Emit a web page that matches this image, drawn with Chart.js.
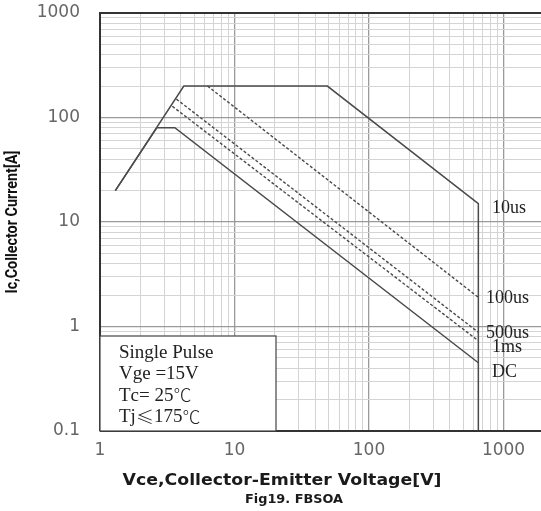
<!DOCTYPE html>
<html>
<head>
<meta charset="utf-8">
<script src="https://cdn.jsdelivr.net/npm/chart.js@4.4.1/dist/chart.umd.min.js"></script>
<style>
  html, body { margin: 0; padding: 0; background: #fff; }
  canvas { display: block; }
</style>
</head>
<body>
<canvas id="soa-chart" width="541" height="511"></canvas>
<script>
// curve points (Vce in V, Ic in A)
const vce10us = [1.3, 4.2, 49, 650, 650];
const ic10us  = [20, 200, 200, 15, 0.1];
const vce100us = [6.3, 650];
const ic100us  = [200, 1.9];
const vce500us = [3.7, 650];
const ic500us  = [150, 0.88];
const vce1ms = [3.45, 650];
const ic1ms  = [128, 0.73];
const vceDC = [1.3, 2.65, 3.6, 650];
const icDC  = [20, 80, 80, 0.45];

const xTickValues = [1, 2, 3, 4, 5, 6, 7, 8, 9, 10, 20, 30, 40, 50, 60, 70, 80, 90,
    100, 200, 300, 400, 500, 600, 700, 800, 900, 1000];
const yTickValues = [0.1, 0.2, 0.3, 0.4, 0.5, 0.6, 0.7, 0.8, 0.9, 1, 2, 3, 4, 5, 6, 7, 8, 9,
    10, 20, 30, 40, 50, 60, 70, 80, 90, 100, 200, 300, 400, 500, 600, 700, 800, 900, 1000];
const xTickLabels = ['1', '10', '100', '1000'];
const yTickLabels = ['0.1', '1', '10', '100', '1000'];

const legendLines = ['Single Pulse', 'Vge =15V', 'Tc= 25\u2103', 'Tj\u2264175\u2103'];
const curveNames = ['10us', '100us', '500us', '1ms', 'DC'];

function pts(xs, ys) {
    return xs.map((v, i) => ({ x: v, y: ys[i] }));
}

function isDecade(v) {
    const l = Math.log10(v);
    return Math.abs(l - Math.round(l)) < 1e-6;
}

function lineSet(label, xs, ys, dashed) {
    return {
        label: label,
        data: pts(xs, ys),
        showLine: true,
        borderColor: '#4a4a4a',
        borderWidth: dashed ? 1.4 : 1.5,
        borderDash: dashed ? [3, 2] : [],
        pointRadius: 0,
        tension: 0,
        fill: false
    };
}

// serif text, with the symbol glyphs (℃, ≤) taken from the CJK font
function drawMixed(c, text, x, y) {
    let cx = x;
    for (const ch of text) {
        const sym = ch === '\u2103' || ch === '\u2264';
        c.font = sym ? '300 18px "Noto Sans CJK SC"' : '19px "Liberation Serif", serif';
        c.fillText(ch, cx, y);
        cx += c.measureText(ch).width;
    }
}

const decorPlugin = {
    id: 'decor',
    afterDraw(chart) {
        const c = chart.ctx;
        const a = chart.chartArea;
        c.save();

        // frame
        c.strokeStyle = '#333';
        c.lineWidth = 2;
        c.beginPath();
        c.moveTo(a.left, a.bottom);
        c.lineTo(a.left, a.top);
        c.lineTo(a.right, a.top);
        c.moveTo(a.left, a.bottom);
        c.lineTo(a.right, a.bottom);
        c.stroke();

        // condition box
        c.fillStyle = '#fff';
        c.fillRect(a.left, 336, 176, a.bottom - 336);
        c.strokeStyle = '#444';
        c.lineWidth = 1.2;
        c.strokeRect(a.left, 336, 176, a.bottom - 336);
        c.fillStyle = '#222';
        c.textBaseline = 'middle';
        c.textAlign = 'left';
        legendLines.forEach((t, i) => drawMixed(c, t, 119, 353 + i * 21.3));

        // curve names on the right
        c.font = '18px "Liberation Serif", serif';
        const nameX = [492, 486, 486, 492, 492];
        const nameY = [208, 298, 333, 347, 372];
        curveNames.forEach((t, i) => c.fillText(t, nameX[i], nameY[i]));

        // axis titles
        c.textAlign = 'center';
        c.fillStyle = '#1a1a1a';
        c.font = 'bold 15px "DejaVu Sans", sans-serif';
        const xt = 'Vce,Collector-Emitter Voltage[V]';
        const wx = c.measureText(xt).width;
        c.save();
        c.translate(282, 481);
        c.scale(319 / wx, 1);
        c.fillText(xt, 0, 0);
        c.restore();

        c.font = 'bold 13px "DejaVu Sans", sans-serif';
        const ft = 'Fig19. FBSOA';
        const wf = c.measureText(ft).width;
        c.save();
        c.translate(294, 500);
        c.scale(98 / wf, 1);
        c.fillText(ft, 0, 0);
        c.restore();

        c.fillStyle = '#111';
        c.font = 'bold 16px Roboto, sans-serif';
        const yt = 'Ic,Collector Current[A]';
        const wy = c.measureText(yt).width;
        c.save();
        c.translate(13, 222);
        c.rotate(-Math.PI / 2);
        c.scale(143 / wy, 1);
        c.fillText(yt, 0, 0);
        c.restore();

        c.restore();
    }
};

new Chart(document.getElementById('soa-chart'), {
    type: 'scatter',
    data: {
        datasets: [
            lineSet('10us', vce10us, ic10us, false),
            lineSet('100us', vce100us, ic100us, true),
            lineSet('500us', vce500us, ic500us, true),
            lineSet('1ms', vce1ms, ic1ms, true),
            lineSet('DC', vceDC, icDC, false)
        ]
    },
    options: {
        responsive: false,
        animation: false,
        layout: { padding: { top: 13, right: 0, left: 0, bottom: 0 } },
        plugins: {
            legend: { display: false },
            tooltip: { enabled: false }
        },
        scales: {
            x: {
                type: 'logarithmic',
                min: 1,
                max: 1900,
                afterBuildTicks: s => { s.ticks = xTickValues.map(v => ({ value: v })); },
                afterFit: s => { s.height = 80; s.paddingLeft = 0; s.paddingRight = 0; },
                border: { display: false },
                grid: {
                    drawTicks: false,
                    color: ctx => isDecade(ctx.tick.value) ? '#9a9a9a' : '#d4d4d4',
                    lineWidth: ctx => isDecade(ctx.tick.value) ? 1.3 : 1
                },
                ticks: {
                    autoSkip: false,
                    maxRotation: 0,
                    padding: 9,
                    color: '#666',
                    font: { family: 'DejaVu Sans', size: 17 },
                    callback: v => {
                        const i = Math.round(Math.log10(v));
                        return isDecade(v) ? xTickLabels[i] : '';
                    }
                }
            },
            y: {
                type: 'logarithmic',
                min: 0.1,
                max: 1000,
                afterBuildTicks: s => { s.ticks = yTickValues.map(v => ({ value: v })); },
                afterFit: s => { s.width = 100; s.paddingTop = 0; s.paddingBottom = 0; },
                border: { display: false },
                grid: {
                    drawTicks: false,
                    color: ctx => isDecade(ctx.tick.value) ? '#9a9a9a' : '#d4d4d4',
                    lineWidth: ctx => isDecade(ctx.tick.value) ? 1.3 : 1
                },
                ticks: {
                    autoSkip: false,
                    padding: 20,
                    color: '#666',
                    font: { family: 'DejaVu Sans', size: 17 },
                    callback: v => {
                        const i = Math.round(Math.log10(v)) + 1;
                        return isDecade(v) ? yTickLabels[i] : '';
                    }
                }
            }
        }
    },
    plugins: [decorPlugin]
});
</script>
</body>
</html>
